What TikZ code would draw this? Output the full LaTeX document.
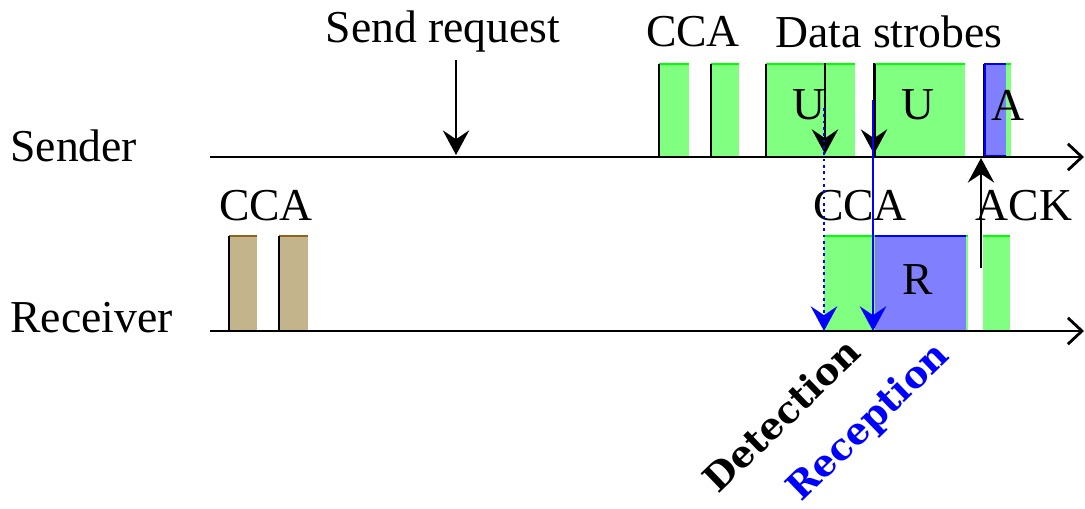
\documentclass[tikz,border=0pt]{standalone}
\usepackage{fontspec}
\setmainfont{Liberation Serif}
\newfontfamily\slabfont{DejaVu Serif}
\usetikzlibrary{arrows.meta}
\definecolor{macGreen}{RGB}{128,255,128}
\definecolor{macGreenLine}{RGB}{0,255,0}
\definecolor{macBlue}{RGB}{128,128,255}
\definecolor{macBlueLine}{RGB}{0,0,255}
\definecolor{macTan}{RGB}{196,180,140}
\definecolor{macBrown}{RGB}{140,100,30}

\begin{document}
\begin{tikzpicture}[x=0.02cm, y=-0.02cm]
\tikzstyle{lbl}=[font=\fontsize{26}{30}\selectfont, inner sep=0pt]
\tikzstyle{tag}=[font=\slabfont\bfseries\fontsize{21}{24}\selectfont, inner sep=0pt, rotate=44]
\tikzstyle{axis}=[line width=1.6pt, -{Straight Barb[length=8pt,width=15pt]}]
\tikzstyle{evt}=[line width=1.3pt, -{Stealth[length=14pt,width=15pt,inset=5pt]}]
\tikzstyle{edge}=[line width=1.1pt]
\useasboundingbox (0,0) rectangle (1085,508);

% sender slots
\foreach \a/\b in {659/689, 711/739, 766/855, 875/965, 984/1011}{
  \fill[macGreen] (\a,64) rectangle (\b,157);
  \draw[macGreenLine, line width=1.6pt] (\a,64) -- (\b,64);
  \draw[edge] (\a,64) -- (\a,157);
}
\fill[macBlue] (984,64) rectangle (1006,157);
\draw[macBlueLine, line width=1.6pt] (1006,64) -- (985,64) -- (985,156) -- (1006,156);

% receiver slots
\foreach \a/\b in {229/257, 279/308}{
  \fill[macTan] (\a,236) rectangle (\b,331);
  \draw[macBrown, line width=1.6pt] (\a,236) -- (\b,236);
  \draw[edge] (\a,236) -- (\a,331);
}
\foreach \a/\b in {824/968, 983/1010}{
  \fill[macGreen] (\a,236) rectangle (\b,331);
  \draw[macGreenLine, line width=1.6pt] (\a,236) -- (\b,236);
}
\fill[macBlue] (875,236) rectangle (966,331);
\draw[macBlueLine, line width=1.6pt] (875,236) -- (966,236);

% time lines
\coordinate (s0) at (210,157);
\coordinate (s1) at (1084,157);
\coordinate (r0) at (210,331);
\coordinate (r1) at (1084,331);
\draw[axis] (s0) -- (s1);
\draw[axis] (r0) -- (r1);

\node[lbl, anchor=west] (sender) at (10,146) {Sender};
\node[lbl, anchor=west] (receiver) at (10,318) {Receiver};

\node[lbl] (req) at (443,32) {Send request};
\node[lbl] (scca) at (693,32) {CCA};
\node[lbl] (strobes) at (889,32) {Data strobes};
\node[lbl] (rcca) at (266,206) {CCA};
\node[lbl] (dcca) at (860,206) {CCA};
\node[lbl] (ack) at (1024,206) {ACK};

\node[lbl] (u1) at (809,105) {U};
\node[lbl] (u2) at (918,105) {U};
\node[lbl] (a) at (1008,105) {A};
\node[lbl] (r) at (918,280) {R};

% events
\coordinate (reqtop) at (456,60);
\coordinate (reqtip) at (456,155);
\coordinate (st1top) at (825,63);
\coordinate (st1tip) at (825,154);
\coordinate (st2top) at (874,63);
\coordinate (st2tip) at (874,154);
\coordinate (dettop) at (824,108);
\coordinate (dettip) at (824,331);
\coordinate (rectop) at (873,100);
\coordinate (rectip) at (873,331);
\coordinate (ackbot) at (981,268);
\coordinate (acktip) at (981,158);

\draw[evt] (reqtop) -- (reqtip);
\draw[evt] (st1top) -- (st1tip);
\draw[evt] (st2top) -- (st2tip);
\draw[evt, macBlueLine, line width=1.6pt, dotted] (dettop) -- (dettip);
\draw[evt, macBlueLine, line width=1.5pt] (rectop) -- (rectip);
\draw[evt] (ackbot) -- (acktip);

\node[tag] (detect) at (781,415) {Detection};
\node[tag, text=macBlueLine] (recept) at (869,423) {Reception};
\end{tikzpicture}
\end{document}
